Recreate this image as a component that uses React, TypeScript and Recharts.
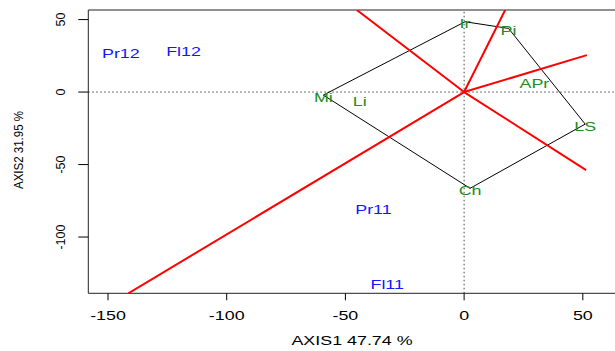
import React from 'react';
import { ComposedChart, Scatter, XAxis, YAxis, ReferenceLine, ReferenceArea } from 'recharts';

// variables (green) — first five form the hull polygon
const varNames = ['Ir', 'Pi', 'LS', 'Ch', 'Mi', 'Li', 'APr'];
const varX = [0.4, 18.7, 51.0, 2.5, -59.3, -44.0, 29.6];
const varY = [48.5, 43.9, -22.1, -66.4, -2.1, -5.2, 7.4];
const hullOrder = ['Ir', 'Pi', 'LS', 'Ch', 'Mi', 'Ir'];

// individuals (blue)
const indNames = ['Pr12', 'Fl12', 'Pr11', 'Fl11'];
const indX = [-144.6, -118.2, -38.2, -32.4];
const indY = [26.7, 27.8, -80.9, -132.4];

// red rays from origin (end where visible)
const rayEndX = [51.7, 51.4, -45.2, 17.3, -141.4];
const rayEndY = [25.5, -53.8, 56.6, 56.6, -138.8];

const xTicks = [-150, -100, -50, 0, 50];
const yTicks = [-100, -50, 0, 50];
const xDomain: [number, number] = [-158.3, 64.4];
const yDomain: [number, number] = [-138.8, 56.6];

const FONT = '"Liberation Sans", Arial, sans-serif';
const FS = 12.5;
const SX = 1.43;

const varData = varNames.map((n, i) => ({ name: n, x: varX[i], y: varY[i] }));
const hullData = hullOrder.map((n) => varData.find((d) => d.name === n)!);
const indData = indNames.map((n, i) => ({ name: n, x: indX[i], y: indY[i] }));
const rays = rayEndX.map((x, i) => [
  { x: 0, y: 0 },
  { x, y: rayEndY[i] },
]);

const makeLabel = (color: string, dy: number) => (props: any) => {
  const { cx, cy, payload } = props;
  return (
    <g transform={`translate(${cx},${cy}) scale(${SX},1)`}>
      <text x={0} y={0} dy={dy} textAnchor="middle" fill={color} fontFamily={FONT} fontSize={FS}>
        {payload.name}
      </text>
    </g>
  );
};

const XTick = (props: any) => {
  const { x, y, payload } = props;
  return (
    <g transform={`translate(${x},${y + 20}) scale(${SX},1)`}>
      <text x={0} y={0} textAnchor="middle" fill="#000" fontFamily={FONT} fontSize={FS}>
        {payload.value}
      </text>
    </g>
  );
};

const YTick = (props: any) => {
  const { x, y, payload } = props;
  return (
    <g transform={`translate(${x - 13},${y}) rotate(-90)`}>
      <text x={0} y={0} textAnchor="middle" fill="#000" fontFamily={FONT} fontSize={FS}>
        {payload.value}
      </text>
    </g>
  );
};

const noDot = () => <g />;

export default function App() {
  return (
    <div style={{ position: 'absolute', left: 0, top: 0, width: 615, height: 351, overflow: 'hidden', background: '#fff' }}>
      <ComposedChart width={620} height={351} margin={{ top: 10, right: 3, bottom: 0, left: 0 }}>
        <XAxis
          type="number"
          dataKey="x"
          domain={xDomain}
          ticks={xTicks}
          allowDataOverflow
          axisLine={false}
          tickSize={7}
          tickMargin={0}
          tickLine={{ stroke: '#000' }}
          tick={<XTick />}
          height={57.7}
        />
        <YAxis
          type="number"
          dataKey="y"
          domain={yDomain}
          ticks={yTicks}
          allowDataOverflow
          axisLine={false}
          tickSize={10}
          tickMargin={0}
          tickLine={{ stroke: '#000' }}
          tick={<YTick />}
          width={88.3}
        />
        <ReferenceArea x1={xDomain[0]} x2={xDomain[1]} y1={yDomain[0]} y2={yDomain[1]} fill="none" stroke="#222" strokeWidth={1} ifOverflow="visible" />
        <ReferenceLine x={0} stroke="#444" strokeDasharray="1.5 2.5" />
        <ReferenceLine y={0} stroke="#444" strokeDasharray="1.5 2.5" />
        <Scatter data={hullData} line={{ stroke: '#000', strokeWidth: 1 }} shape={noDot} isAnimationActive={false} />
        {rays.map((r, i) => (
          <Scatter key={`ray-${i}`} data={r} line={{ stroke: '#ff0000', strokeWidth: 2 }} shape={noDot} isAnimationActive={false} />
        ))}
        <Scatter data={varData} shape={makeLabel('#228B22', 6.5)} isAnimationActive={false} />
        <Scatter data={indData} shape={makeLabel('#1515ff', 4.5)} isAnimationActive={false} />
      </ComposedChart>
      <svg width={615} height={351} style={{ position: 'absolute', left: 0, top: 0, pointerEvents: 'none' }}>
        <g transform={`translate(352,345) scale(${SX},1)`}>
          <text x={0} y={0} textAnchor="middle" fill="#000" fontFamily={FONT} fontSize={FS}>
            AXIS1 47.74 %
          </text>
        </g>
        <text
          transform="translate(23,150) rotate(-90)"
          x={0}
          y={0}
          textAnchor="middle"
          fill="#000"
          fontFamily={FONT}
          fontSize={FS}
          textLength={78}
          lengthAdjust="spacingAndGlyphs"
        >
          AXIS2 31.95 %
        </text>
      </svg>
    </div>
  );
}
